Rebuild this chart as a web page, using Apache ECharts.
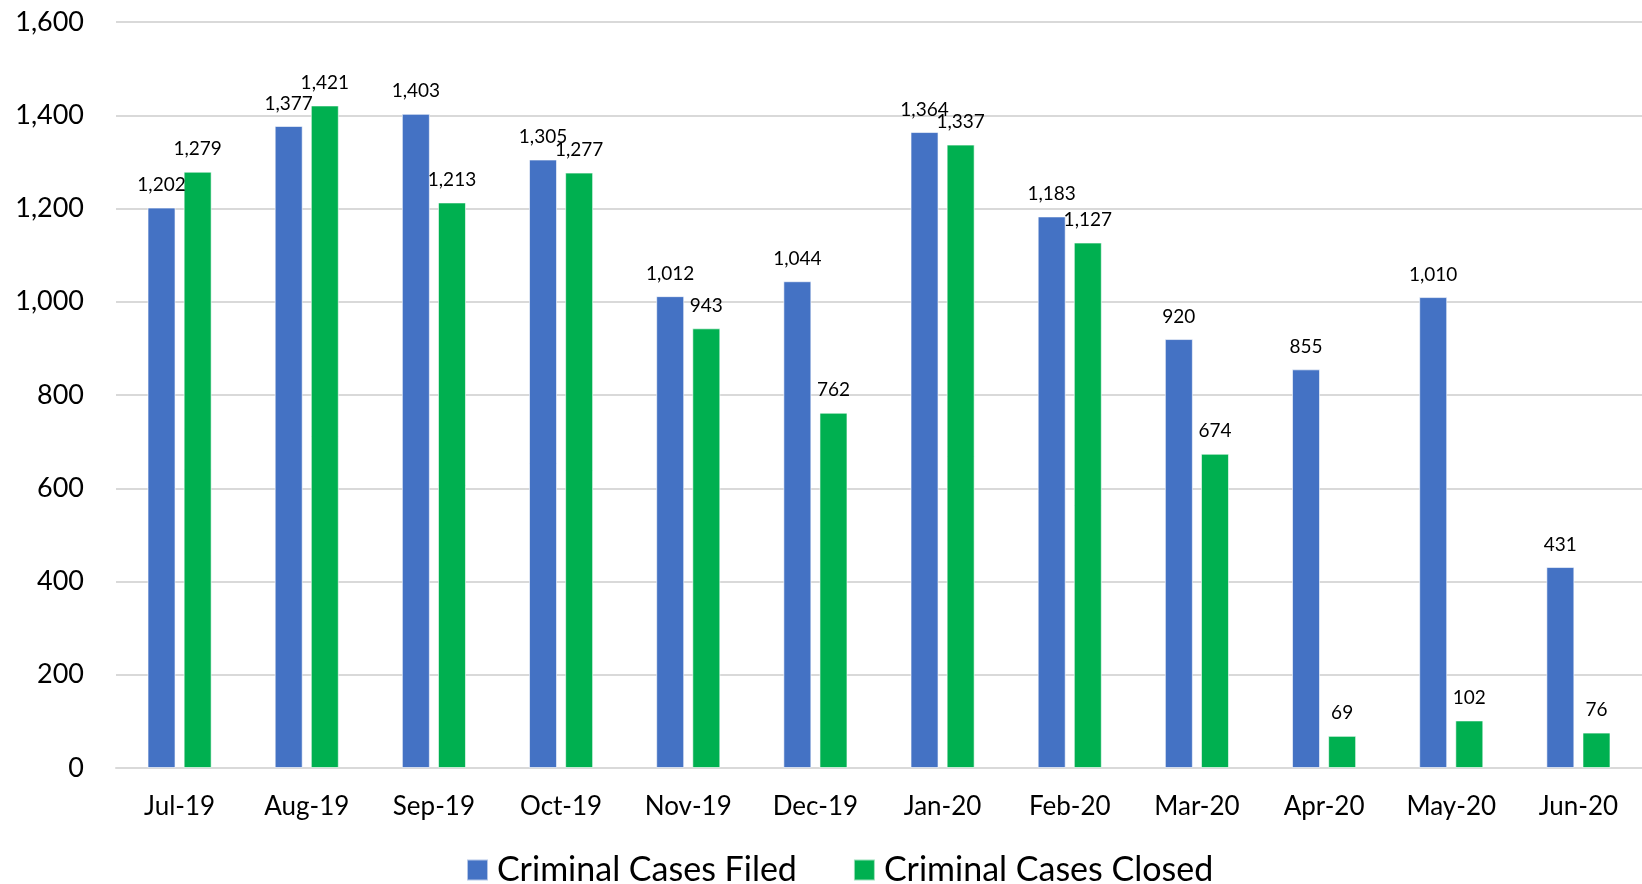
<!DOCTYPE html>
<html>
<head>
<meta charset="utf-8">
<script src="https://cdn.jsdelivr.net/npm/echarts@6/dist/echarts.min.js"></script>
<style>
  html, body { margin: 0; padding: 0; background: #fff; }
  #chart { width: 1642px; height: 884px; }
</style>
</head>
<body>
<div id="chart"></div>
<script>
const months = ['Jul-19', 'Aug-19', 'Sep-19', 'Oct-19', 'Nov-19', 'Dec-19',
                'Jan-20', 'Feb-20', 'Mar-20', 'Apr-20', 'May-20', 'Jun-20'];
const casesFiled = [1202, 1377, 1403, 1305, 1012, 1044, 1364, 1183, 920, 855, 1010, 431];
const casesClosed = [1279, 1421, 1213, 1277, 943, 762, 1337, 1127, 674, 69, 102, 76];
const yTicks = { min: 0, max: 1600, interval: 200 };

const fmt = v => v.toLocaleString('en-US');
const FONT = 'Lato, "Open Sans", sans-serif';

const chart = echarts.init(document.getElementById('chart'));

function barSeries(name, data, color) {
  return {
    name: name,
    type: 'bar',
    data: data,
    barWidth: 28,
    barGap: '29%',
    itemStyle: { color: color, borderColor: 'rgba(255,255,255,0.6)', borderWidth: 1 },
    label: {
      show: true,
      position: 'top',
      distance: 13,
      color: '#000',
      fontFamily: FONT,
      fontSize: 19,
      formatter: p => fmt(p.value)
    }
  };
}

chart.setOption({
  animation: false,
  textStyle: { fontFamily: FONT },
  grid: { left: 116, right: 0, top: 22, bottom: 116 },
  legend: {
    left: 461,
    top: 848,
    itemWidth: 21,
    itemHeight: 21,
    itemGap: 56,
    icon: 'rect',
    textStyle: { fontFamily: FONT, fontSize: 34, color: '#000', padding: [0, 0, 0, 4] },
    data: ['Criminal Cases Filed', 'Criminal Cases Closed']
  },
  xAxis: {
    type: 'category',
    data: months,
    axisLine: { lineStyle: { color: '#D9D9D9', width: 2 } },
    axisTick: { show: false },
    axisLabel: { color: '#000', fontSize: 26, fontFamily: FONT, margin: 26 }
  },
  yAxis: {
    type: 'value',
    min: yTicks.min,
    max: yTicks.max,
    interval: yTicks.interval,
    axisLine: { show: false },
    axisTick: { show: false },
    splitLine: { lineStyle: { color: '#D9D9D9', width: 2 } },
    axisLabel: {
      color: '#000', fontSize: 27, fontFamily: FONT, margin: 32,
      formatter: v => fmt(v)
    }
  },
  series: [
    barSeries('Criminal Cases Filed', casesFiled, '#4472C4'),
    barSeries('Criminal Cases Closed', casesClosed, '#00B050')
  ]
});
</script>
</body>
</html>
